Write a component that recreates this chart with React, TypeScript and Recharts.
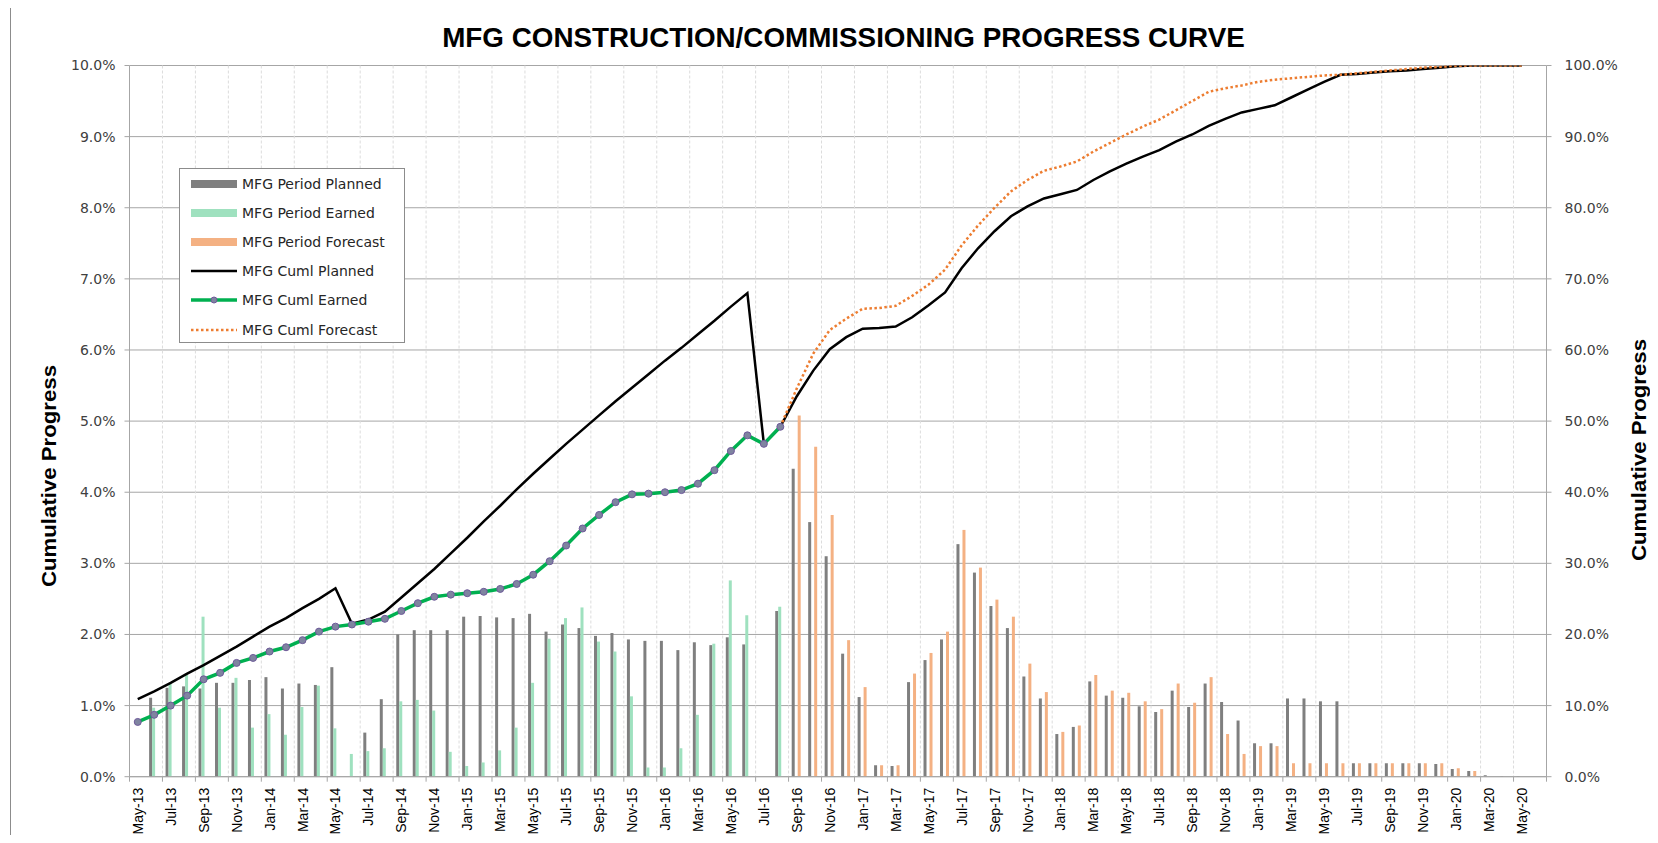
import React from 'react';
import { ComposedChart, Bar, Line, XAxis, YAxis, CartesianGrid, Legend } from 'recharts';

const months = [
  'May-13','Jun-13','Jul-13','Aug-13','Sep-13','Oct-13','Nov-13','Dec-13',
  'Jan-14','Feb-14','Mar-14','Apr-14','May-14','Jun-14','Jul-14','Aug-14','Sep-14','Oct-14','Nov-14','Dec-14',
  'Jan-15','Feb-15','Mar-15','Apr-15','May-15','Jun-15','Jul-15','Aug-15','Sep-15','Oct-15','Nov-15','Dec-15',
  'Jan-16','Feb-16','Mar-16','Apr-16','May-16','Jun-16','Jul-16','Aug-16','Sep-16','Oct-16','Nov-16','Dec-16',
  'Jan-17','Feb-17','Mar-17','Apr-17','May-17','Jun-17','Jul-17','Aug-17','Sep-17','Oct-17','Nov-17','Dec-17',
  'Jan-18','Feb-18','Mar-18','Apr-18','May-18','Jun-18','Jul-18','Aug-18','Sep-18','Oct-18','Nov-18','Dec-18',
  'Jan-19','Feb-19','Mar-19','Apr-19','May-19','Jun-19','Jul-19','Aug-19','Sep-19','Oct-19','Nov-19','Dec-19',
  'Jan-20','Feb-20','Mar-20','Apr-20','May-20','Jun-20',
];

const periodPlanned = [
  null, 1.11, 1.25, 1.27, 1.24, 1.32, 1.32, 1.36,
  1.40, 1.24, 1.31, 1.29, 1.54, null, 0.62, 1.09, 2.00, 2.06, 2.06, 2.06,
  2.25, 2.26, 2.24, 2.23, 2.29, 2.04, 2.14, 2.09, 1.98, 2.02, 1.93, 1.91,
  1.91, 1.78, 1.89, 1.85, 1.96, 1.86, null, 2.33, 4.33, 3.58, 3.10, 1.73,
  1.12, 0.16, 0.15, 1.33, 1.64, 1.93, 3.27, 2.87, 2.40, 2.09, 1.41, 1.10,
  0.60, 0.70, 1.34, 1.14, 1.11, 0.99, 0.91, 1.21, 0.98, 1.31, 1.05, 0.79,
  0.47, 0.47, 1.10, 1.10, 1.06, 1.06, 0.19, 0.19, 0.19, 0.19, 0.19, 0.18,
  0.11, 0.08, 0.02, 0.01, 0.01, null,
];

const periodEarned = [
  null, 0.97, 1.31, 1.44, 2.25, 0.97, 1.39, 0.69,
  0.88, 0.59, 0.98, 1.28, 0.68, 0.32, 0.36, 0.40, 1.06, 1.08, 0.93, 0.35,
  0.15, 0.20, 0.37, 0.69, 1.32, 1.94, 2.23, 2.38, 1.90, 1.76, 1.13, 0.13,
  0.13, 0.40, 0.87, 1.87, 2.76, 2.27, null, 2.39, null, null, null, null,
  null, null, null, null, null, null, null, null, null, null, null, null,
  null, null, null, null, null, null, null, null, null, null, null, null,
  null, null, null, null, null, null, null, null, null, null, null, null,
  null, null, null, null, null, null,
];

const periodForecast = [
  null, null, null, null, null, null, null, null,
  null, null, null, null, null, null, null, null, null, null, null, null,
  null, null, null, null, null, null, null, null, null, null, null, null,
  null, null, null, null, null, null, null, null, 5.08, 4.64, 3.68, 1.92,
  1.26, 0.16, 0.16, 1.45, 1.74, 2.04, 3.47, 2.94, 2.49, 2.25, 1.59, 1.19,
  0.63, 0.72, 1.43, 1.21, 1.18, 1.06, 0.95, 1.31, 1.04, 1.40, 0.60, 0.32,
  0.43, 0.43, 0.19, 0.19, 0.19, 0.19, 0.19, 0.19, 0.19, 0.19, 0.19, 0.19,
  0.12, 0.08, null, null, null, null,
];

const cumlPlanned = [
  10.9, 12.0, 13.2, 14.5, 15.7, 17.0, 18.3, 19.7,
  21.1, 22.3, 23.7, 25.0, 26.5, 21.5, 22.1, 23.2, 25.2, 27.2, 29.2, 31.4,
  33.6, 35.9, 38.1, 40.4, 42.6, 44.7, 46.8, 48.8, 50.8, 52.8, 54.7, 56.6,
  58.5, 60.3, 62.2, 64.1, 66.1, 68.0, 46.8, 49.2, 53.5, 57.1, 60.1, 61.8,
  63.0, 63.1, 63.3, 64.6, 66.3, 68.1, 71.5, 74.3, 76.7, 78.8, 80.2, 81.3,
  81.9, 82.5, 83.9, 85.1, 86.2, 87.2, 88.1, 89.3, 90.3, 91.5, 92.5, 93.4,
  93.9, 94.4, 95.5, 96.6, 97.7, 98.7, 98.8, 99.0, 99.2, 99.3, 99.5, 99.7,
  99.9, 100.0, 100.0, 100.0, 100.0, null,
];

const cumlEarned = [
  7.7, 8.7, 10.0, 11.4, 13.7, 14.6, 16.0, 16.7,
  17.6, 18.2, 19.2, 20.4, 21.1, 21.4, 21.8, 22.2, 23.3, 24.4, 25.3, 25.6,
  25.8, 26.0, 26.4, 27.1, 28.4, 30.3, 32.5, 34.9, 36.8, 38.6, 39.7, 39.8,
  40.0, 40.3, 41.2, 43.1, 45.8, 48.0, 46.8, 49.2, null, null, null, null,
  null, null, null, null, null, null, null, null, null, null, null, null,
  null, null, null, null, null, null, null, null, null, null, null, null,
  null, null, null, null, null, null, null, null, null, null, null, null,
  null, null, null, null, null, null,
];

const cumlForecast = [
  null, null, null, null, null, null, null, null,
  null, null, null, null, null, null, null, null, null, null, null, null,
  null, null, null, null, null, null, null, null, null, null, null, null,
  null, null, null, null, null, null, null, 49.2, 54.6, 59.5, 62.8, 64.4,
  65.8, 65.9, 66.2, 67.6, 69.2, 71.3, 74.7, 77.5, 80.0, 82.3, 83.9, 85.2,
  85.8, 86.5, 87.9, 89.1, 90.3, 91.4, 92.4, 93.7, 95.0, 96.3, 96.8, 97.2,
  97.7, 98.0, 98.2, 98.4, 98.6, 98.7, 98.9, 99.1, 99.3, 99.5, 99.7, 99.8,
  99.95, 100.0, 100.0, 100.0, 100.0, null,
];

const leftTicks = [0, 1, 2, 3, 4, 5, 6, 7, 8, 9, 10];
const rightTicks = [0, 10, 20, 30, 40, 50, 60, 70, 80, 90, 100];

const TITLE = 'MFG CONSTRUCTION/COMMISSIONING PROGRESS CURVE';
const AXIS_TITLE = 'Cumulative Progress';

const legendItems = [
  { label: 'MFG Period Planned', kind: 'bar', color: '#7f7f7f' },
  { label: 'MFG Period Earned', kind: 'bar', color: '#9fe1bf' },
  { label: 'MFG Period Forecast', kind: 'bar', color: '#f4b183' },
  { label: 'MFG Cuml Planned', kind: 'line', color: '#000000' },
  { label: 'MFG Cuml Earned', kind: 'marker', color: '#00b050' },
  { label: 'MFG Cuml Forecast', kind: 'dotted', color: '#ed7d31' },
];

const data = months.map((m, i) => ({
  month: m,
  pp: periodPlanned[i],
  pe: periodEarned[i],
  pf: periodForecast[i],
  cp: cumlPlanned[i],
  ce: cumlEarned[i],
  cf: cumlForecast[i],
}));

const GRID = '#a6a6a6';
const TICK_FONT = '"DejaVu Sans", Verdana, sans-serif';

const XTick = (props: any) => {
  const { x, y, payload } = props;
  const half = payload && payload.offset ? payload.offset : 8.24;
  const ty = y + 11;
  return (
    <g>
      <line x1={x - half} x2={x - half} y1={y} y2={y + 5} stroke={GRID} strokeWidth={1} />
      {payload.value === 'May-20' ? (
        <line x1={x + 3 * half} x2={x + 3 * half} y1={y} y2={y + 5} stroke={GRID} strokeWidth={1} />
      ) : null}
      <text
        x={x}
        y={ty}
        dy="0.36em"
        transform={`rotate(-90 ${x} ${ty})`}
        textAnchor="end"
        fontFamily='"Liberation Sans", Arial, sans-serif'
        fontSize={14}
        fill="#000"
      >
        {payload.value}
      </text>
    </g>
  );
};

const AxisTitle = ({ cx, cy }: { cx: number; cy: number }) => (
  <text
    x={cx}
    y={cy}
    transform={`rotate(-90 ${cx} ${cy})`}
    textAnchor="middle"
    dy="0.35em"
    fontFamily='"Liberation Sans", Arial, sans-serif'
    fontWeight="bold"
    fontSize={20}
    textLength={222}
    lengthAdjust="spacingAndGlyphs"
    fill="#000"
  >
    {AXIS_TITLE}
  </text>
);

const LegendBox = () => (
  <div
    style={{
      width: 226,
      height: 175,
      border: '1px solid #8c8c8c',
      background: '#fff',
      boxSizing: 'border-box',
      paddingTop: 0,
    }}
  >
    {legendItems.map((it) => (
      <div key={it.label} style={{ height: 29.2, display: 'flex', alignItems: 'center' }}>
        <svg width={58} height={12} style={{ marginLeft: 8, flex: 'none' }}>
          {it.kind === 'bar' ? <rect x={3} y={2} width={46} height={8} fill={it.color} /> : null}
          {it.kind === 'line' ? <line x1={3} x2={49} y1={6} y2={6} stroke={it.color} strokeWidth={2.5} /> : null}
          {it.kind === 'marker' ? (
            <g>
              <line x1={3} x2={49} y1={6} y2={6} stroke={it.color} strokeWidth={3.5} />
              <circle cx={26} cy={6} r={3} fill="#7f84a0" stroke="#6f5a9a" strokeWidth={1} />
            </g>
          ) : null}
          {it.kind === 'dotted' ? (
            <line x1={3} x2={49} y1={6} y2={6} stroke={it.color} strokeWidth={2.5} strokeDasharray="2.5 2.5" />
          ) : null}
        </svg>
        <span
          style={{
            fontFamily: TICK_FONT,
            fontSize: 14,
            color: '#262626',
            whiteSpace: 'nowrap',
            marginLeft: -4,
          }}
        >
          {it.label}
        </span>
      </div>
    ))}
  </div>
);

export default function App() {
  return (
    <div
      style={{
        position: 'relative',
        width: 1658,
        height: 843,
        margin: -8,
        overflow: 'hidden',
        background: '#fff',
      }}
    >
      <div
        style={{
          position: 'absolute',
          left: 10,
          top: 6,
          width: 1641,
          height: 900,
          border: '1.5px solid #8c8c8c',
          boxSizing: 'border-box',
          pointerEvents: 'none',
        }}
      />
      <div
        style={{
          position: 'absolute',
          left: 0,
          top: 0,
          width: 1658,
          height: 843,
        }}
      >
        <ComposedChart
          width={1658}
          height={843}
          data={data}
          margin={{ top: 65.5, right: 0, bottom: 0, left: 0 }}
          barCategoryGap="19%"
          barGap={0}
        >
          <text
            x={843.5}
            y={47}
            textAnchor="middle"
            fontFamily='"Liberation Sans", Arial, sans-serif'
            fontWeight="bold"
            fontSize={27.8}
            fill="#000"
          >
            {TITLE}
          </text>
          <CartesianGrid yAxisId="left" vertical={false} stroke={GRID} strokeWidth={1} />
          <CartesianGrid
            yAxisId="left"
            horizontal={false}
            stroke="#dcdcdc"
            strokeDasharray="3 2"
            verticalCoordinatesGenerator={(p: any) => {
              const off = p.offset;
              const bw = off.width / months.length;
              const arr: number[] = [];
              for (let k = 1; k < months.length / 2; k++) arr.push(off.left + k * 2 * bw);
              return arr;
            }}
          />
          <XAxis
            dataKey="month"
            interval={1}
            height={66.3}
            tickSize={0}
            tickMargin={0}
            tickLine={false}
            axisLine={{ stroke: GRID }}
            tick={<XTick />}
          />
          <YAxis
            yAxisId="left"
            orientation="left"
            width={129.5}
            domain={[0, 10]}
            ticks={leftTicks}
            interval={0}
            allowDataOverflow
            tickFormatter={(v: number) => `${v.toFixed(1)}%`}
            tickSize={5}
            tickMargin={9}
            axisLine={{ stroke: GRID }}
            tickLine={{ stroke: GRID }}
            tick={{ fontFamily: TICK_FONT, fontSize: 14, fill: '#404040' }}
            label={{ content: () => <AxisTitle cx={49} cy={476} /> }}
          />
          <YAxis
            yAxisId="right"
            orientation="right"
            width={111.5}
            domain={[0, 100]}
            ticks={rightTicks}
            interval={0}
            allowDataOverflow
            tickFormatter={(v: number) => `${v.toFixed(1)}%`}
            tickSize={5}
            tickMargin={13}
            axisLine={{ stroke: GRID }}
            tickLine={{ stroke: GRID }}
            tick={{ fontFamily: TICK_FONT, fontSize: 14, fill: '#404040' }}
            label={{ content: () => <AxisTitle cx={1639} cy={450} /> }}
          />
          <Legend
            layout="vertical"
            align="center"
            verticalAlign="middle"
            wrapperStyle={{ left: 179, top: 168, width: 226, height: 175 }}
            content={() => <LegendBox />}
          />
          <Bar yAxisId="left" dataKey="pp" name="MFG Period Planned" fill="#7f7f7f" isAnimationActive={false} />
          <Bar yAxisId="left" dataKey="pe" name="MFG Period Earned" fill="#9fe1bf" isAnimationActive={false} />
          <Bar yAxisId="left" dataKey="pf" name="MFG Period Forecast" fill="#f4b183" isAnimationActive={false} />
          <Line
            yAxisId="right"
            type="linear"
            dataKey="cp"
            name="MFG Cuml Planned"
            stroke="#000"
            strokeWidth={2.5}
            dot={false}
            isAnimationActive={false}
          />
          <Line
            yAxisId="right"
            type="linear"
            dataKey="ce"
            name="MFG Cuml Earned"
            stroke="#00b050"
            strokeWidth={3.5}
            dot={{ r: 3.5, fill: '#7f84a0', stroke: '#6f5a9a', strokeWidth: 1 }}
            isAnimationActive={false}
          />
          <Line
            yAxisId="right"
            type="linear"
            dataKey="cf"
            name="MFG Cuml Forecast"
            stroke="#ed7d31"
            strokeWidth={2.5}
            strokeDasharray="2.5 2.5"
            dot={false}
            isAnimationActive={false}
          />
        </ComposedChart>
      </div>
    </div>
  );
}
